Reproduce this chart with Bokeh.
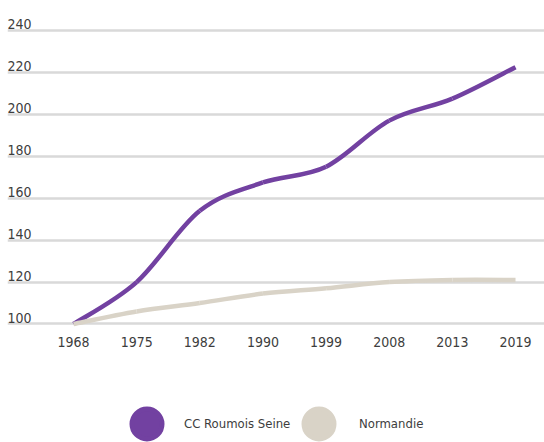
from bokeh.plotting import figure
from bokeh.layouts import column
from bokeh.models import Range1d, FixedTicker, Legend, LegendItem, ColumnDataSource
from bokeh.core.properties import value
from bokeh.embed import file_html
from bokeh.resources import INLINE

# ---- data ----
years = ["1968", "1975", "1982", "1990", "1999", "2008", "2013", "2019"]
cc_roumois = [100, 120, 154, 167.5, 175, 197, 207.5, 222.5]
normandie = [100, 106, 110, 114.5, 117, 120, 121, 121]
y_ticks = [100, 120, 140, 160, 180, 200, 220, 240]
series_names = ["CC Roumois Seine", "Normandie"]
series_colors = ["#7241a1", "#d9d3c7"]

FONT = "DejaVu Sans Condensed"
TXT = "#3d3d3d"


def bezier_source(ys):
    """Smooth (Catmull-Rom) curve through the data points, as cubic Bezier segments."""
    xs = list(range(len(ys)))
    n = len(xs)
    d = dict(x0=[], y0=[], x1=[], y1=[], cx0=[], cy0=[], cx1=[], cy1=[])
    for i in range(n - 1):
        a = max(i - 1, 0)
        b = min(i + 2, n - 1)
        d["x0"].append(xs[i]); d["y0"].append(ys[i])
        d["x1"].append(xs[i + 1]); d["y1"].append(ys[i + 1])
        d["cx0"].append(xs[i] + (xs[i + 1] - xs[a]) / 6)
        d["cy0"].append(ys[i] + (ys[i + 1] - ys[a]) / 6)
        d["cx1"].append(xs[i + 1] - (xs[b] - xs[i]) / 6)
        d["cy1"].append(ys[i + 1] - (ys[b] - ys[i]) / 6)
    return ColumnDataSource(d)


x_start, x_end = -1.0453, 7.459
p = figure(
    width=544, height=352,
    x_range=Range1d(x_start, x_end), y_range=Range1d(97.85, 254.3),
    output_backend="svg", toolbar_location=None,
    y_axis_location=None,
    min_border_left=7, min_border_right=0, min_border_top=0, min_border_bottom=24,
)
p.outline_line_color = None
p.background_fill_color = "white"
p.border_fill_color = "white"

# grid
p.xgrid.grid_line_color = None
p.ygrid.ticker = FixedTicker(ticks=y_ticks)
p.ygrid.grid_line_color = "#d9d9d9"
p.ygrid.grid_line_width = 2.5

# x axis
xa = p.xaxis[0]
xa.ticker = FixedTicker(ticks=list(range(len(years))))
xa.major_label_overrides = {i: y for i, y in enumerate(years)}
xa.axis_line_color = None
xa.major_tick_line_color = None
xa.minor_tick_line_color = None
xa.major_tick_out = 0
xa.major_tick_in = 0
xa.major_label_standoff = 8
xa.major_label_text_font = FONT
xa.major_label_text_font_size = "14px"
xa.major_label_text_color = TXT

# y tick labels drawn above the grid lines
p.text(x=[x_start] * len(y_ticks), y=y_ticks, text=[str(t) for t in y_ticks],
       text_font=value(FONT), text_font_size="14px", text_color=TXT,
       text_align="left", text_baseline="alphabetic", x_offset=0, y_offset=-6)

# lines
p.bezier(x0="x0", y0="y0", x1="x1", y1="y1", cx0="cx0", cy0="cy0", cx1="cx1", cy1="cy1",
         source=bezier_source(cc_roumois), line_color=series_colors[0], line_width=4.5)
p.bezier(x0="x0", y0="y0", x1="x1", y1="y1", cx0="cx0", cy0="cy0", cx1="cx1", cy1="cy1",
         source=bezier_source(normandie), line_color=series_colors[1], line_width=4.5)

# legend strip below the chart
lf = figure(
    width=544, height=90, x_range=Range1d(0, 1), y_range=Range1d(0, 1),
    output_backend="svg", toolbar_location=None,
    x_axis_location=None, y_axis_location=None,
    min_border_left=0, min_border_right=0, min_border_top=0, min_border_bottom=0,
)
lf.outline_line_color = None
lf.xgrid.grid_line_color = None
lf.ygrid.grid_line_color = None

nan = float("nan")
r1 = lf.scatter(x=[nan], y=[nan], marker="circle", size=10,
                fill_color=series_colors[0], line_color=series_colors[0], line_width=5)
r2 = lf.scatter(x=[nan], y=[nan], marker="circle", size=10,
                fill_color=series_colors[1], line_color=series_colors[1], line_width=5)

for name, r, loc, standoff in [(series_names[0], r1, (102, -19), 0),
                               (series_names[1], r2, (274, -19), 3)]:
    leg = Legend(items=[LegendItem(label=name, renderers=[r])], location=loc,
                 glyph_width=75, glyph_height=75, padding=0, margin=0, spacing=0,
                 border_line_color=None, background_fill_alpha=0,
                 label_standoff=standoff, label_text_font=FONT,
                 label_text_font_size="13px", label_text_color=TXT,
                 label_text_baseline="middle")
    lf.add_layout(leg)

page = column(p, lf, spacing=0)
open("out.html", "w").write(file_html(page, INLINE))
